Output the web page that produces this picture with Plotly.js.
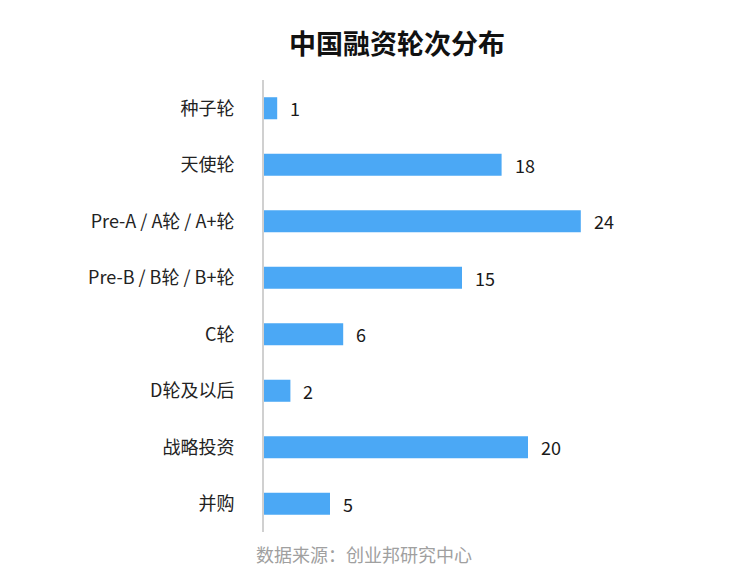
<!DOCTYPE html>
<html>
<head>
<meta charset="utf-8">
<script src="https://cdn.plot.ly/plotly-3.0.1.min.js"></script>
<style>body{margin:0;}#plotArea{width:745px;height:575px;}</style>
</head>
<body>
<div id="plotArea"></div>
<script>
// 融资轮次 categories and counts
var rounds = ["种子轮", "天使轮", "Pre-A / A轮 / A+轮", "Pre-B / B轮 / B+轮", "C轮", "D轮及以后", "战略投资", "并购"];
var counts = [1, 18, 24, 15, 6, 2, 20, 5];

var font = "'Noto Sans CJK SC', 'Microsoft YaHei', sans-serif";

var trace = {
	x: counts,
	y: rounds,
	type: "bar",
	orientation: "h",
	marker: { color: "#4BA8F5" },
	hoverinfo: "x+y"
};

// value labels next to the bars
var labels = rounds.map(function (r, i) {
	return {
		x: counts[i], y: r, xref: "x", yref: "y",
		text: String(counts[i]), showarrow: false,
		xanchor: "left", xshift: 11,
		font: { family: font, size: 18, color: "#1a1a1a" }
	};
});

labels.push({
	text: "数据来源：创业邦研究中心",
	xref: "paper", yref: "paper", x: 0.2525, y: 0, yshift: -22,
	xanchor: "center", yanchor: "middle", showarrow: false,
	font: { family: font, size: 18, color: "#a0a0a0" }
});

var layout = {
	title: {
		text: "<b>中国融资轮次分布</b>",
		x: 0.533, xanchor: "center", y: 0.922, yanchor: "middle",
		font: { family: font, size: 27, color: "#111" }
	},
	font: { family: font, size: 18, color: "#222" },
	margin: { l: 264, r: 85, t: 80, b: 43 },
	bargap: 0.61,
	showlegend: false,
	paper_bgcolor: "#fff",
	plot_bgcolor: "#fff",
	xaxis: {
		range: [0, 30],
		visible: false,
		fixedrange: true
	},
	yaxis: {
		autorange: "reversed",
		showline: true,
		linecolor: "#d0d0d0",
		linewidth: 2,
		showgrid: false,
		ticks: "",
		ticklabelstandoff: 24,
		tickfont: { family: font, size: 18, color: "#222" }
	},
	annotations: labels
};

Plotly.newPlot("plotArea", [trace], layout, { displayModeBar: false });
</script>
</body>
</html>
